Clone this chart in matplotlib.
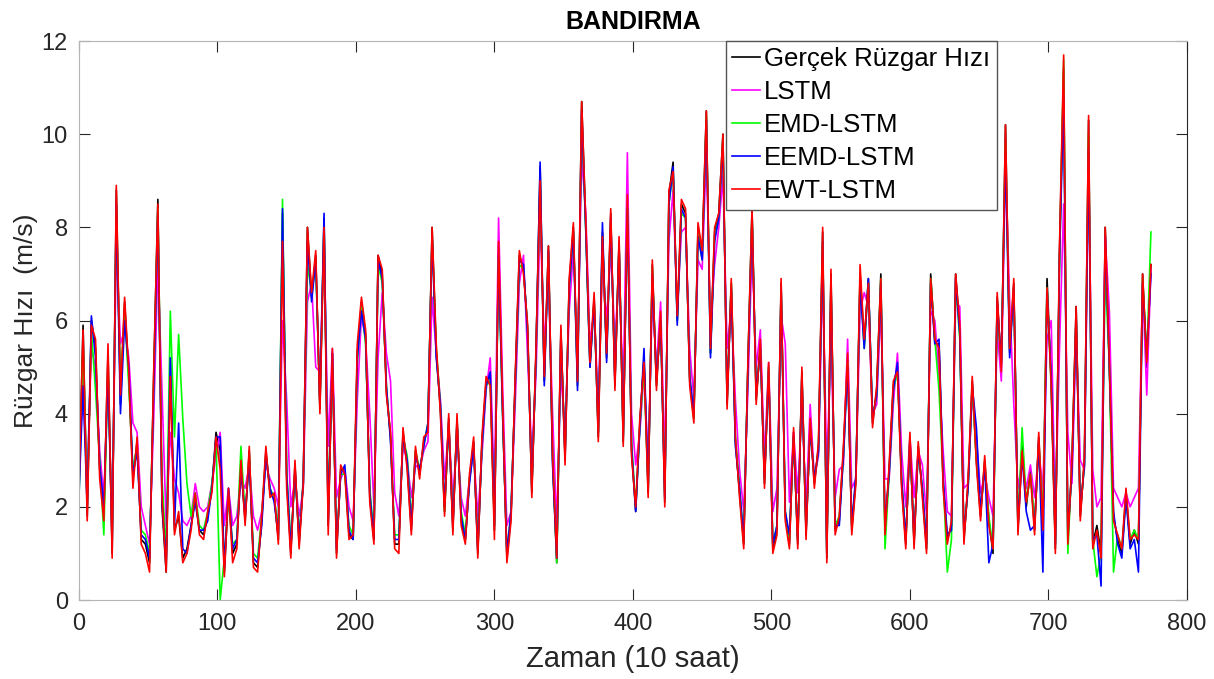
import matplotlib.pyplot as plt
import numpy as np

# du lieu doc tu hinh (moi diem cach nhau 3 don vi thoi gian)
gercek = [2.3, 5.9, 1.8, 6.0, 5.4, 2.8, 1.9, 5.3, 1.0, 8.8,
          4.2, 6.4, 4.8, 2.6, 3.4, 1.3, 1.2, 0.8, 4.8, 8.6,
          2.0, 0.6, 5.1, 1.5, 1.8, 0.9, 1.1, 1.6, 2.2, 1.5,
          1.4, 1.8, 2.4, 3.6, 3.2, 0.6, 2.3, 1.0, 1.2, 2.9,
          1.7, 3.2, 0.8, 0.7, 1.7, 3.2, 2.3, 2.2, 1.3, 8.3,
          2.6, 1.0, 2.9, 1.2, 2.6, 8.0, 6.5, 7.4, 4.1, 8.2,
          1.6, 5.3, 1.0, 2.8, 2.8, 1.4, 1.3, 5.3, 6.4, 5.7,
          2.2, 1.3, 7.4, 7.0, 4.5, 3.5, 1.2, 1.2, 3.6, 2.9,
          1.5, 3.2, 2.7, 3.4, 3.7, 8.0, 5.3, 4.1, 1.9, 3.9,
          1.5, 3.9, 1.7, 1.3, 2.6, 3.4, 1.0, 3.4, 4.7, 4.8,
          1.5, 7.6, 4.0, 0.9, 1.8, 4.7, 7.4, 7.1, 5.8, 2.3,
          5.3, 9.3, 4.7, 7.6, 3.0, 0.8, 5.8, 3.0, 6.8, 8.0,
          4.6, 10.7, 8.0, 5.0, 6.5, 3.5, 7.9, 5.2, 8.3, 4.6,
          7.7, 3.4, 8.6, 3.2, 1.9, 3.8, 5.2, 2.3, 7.2, 4.6,
          6.1, 2.1, 8.7, 9.4, 6.0, 8.5, 8.3, 4.7, 3.9, 8.0,
          7.4, 10.5, 5.3, 7.9, 8.3, 10.0, 4.2, 6.8, 3.4, 2.3,
          1.2, 5.0, 8.4, 4.3, 5.5, 2.5, 5.0, 1.1, 1.5, 6.8,
          1.8, 1.2, 3.6, 1.2, 4.9, 1.4, 3.8, 2.5, 3.3, 7.9,
          0.9, 7.0, 1.5, 1.7, 3.2, 5.2, 1.5, 2.6, 7.0, 5.5,
          6.9, 3.8, 4.5, 7.0, 1.5, 2.8, 4.6, 5.0, 2.5, 1.2,
          3.5, 1.2, 3.3, 2.3, 1.1, 7.0, 5.5, 5.5, 2.5, 1.3,
          1.6, 7.0, 5.8, 1.3, 2.5, 4.7, 3.0, 1.8, 3.0, 1.7,
          1.0, 6.5, 5.0, 10.2, 5.3, 6.8, 1.5, 3.3, 2.0, 2.8,
          1.5, 3.5, 1.6, 6.9, 4.7, 1.1, 7.5, 11.4, 1.3, 2.9,
          6.3, 1.8, 3.0, 10.3, 1.2, 1.6, 1.0, 8.0, 5.0, 1.8,
          1.3, 1.0, 2.3, 1.2, 1.5, 1.2, 7.0, 5.0, 7.2]

lstm = [3.0, 4.5, 2.6, 5.4, 5.0, 3.2, 2.2, 4.8, 1.6, 7.6,
        5.5, 5.8, 5.2, 3.8, 3.6, 2.0, 1.6, 1.2, 3.9, 7.2,
        4.5, 1.6, 3.6, 2.6, 2.3, 1.7, 1.6, 1.8, 2.5, 2.0,
        1.9, 2.0, 2.5, 3.1, 3.6, 1.6, 2.4, 1.6, 1.8, 2.6,
        2.4, 2.9, 1.8, 1.5, 1.9, 2.9, 2.6, 2.4, 2.0, 6.0,
        4.3, 2.0, 2.6, 1.8, 2.4, 6.4, 6.8, 5.0, 4.9, 7.7,
        3.3, 5.4, 2.2, 2.6, 2.8, 2.0, 1.7, 4.3, 6.1, 5.6,
        4.0, 2.0, 5.2, 6.6, 5.3, 4.7, 2.3, 1.8, 3.3, 3.0,
        2.2, 2.9, 2.8, 3.2, 3.4, 6.5, 5.3, 4.3, 2.6, 3.7,
        2.2, 3.5, 2.2, 1.8, 2.6, 3.2, 1.8, 3.1, 4.5, 5.2,
        2.3, 8.2, 4.5, 1.6, 1.9, 4.2, 6.8, 7.4, 5.2, 3.1,
        4.8, 8.2, 5.5, 6.8, 4.0, 1.6, 4.9, 3.6, 6.2, 7.5,
        5.2, 9.5, 8.3, 5.5, 6.2, 4.2, 7.2, 6.0, 7.5, 5.6,
        7.0, 4.5, 9.6, 4.0, 2.9, 3.6, 4.9, 3.0, 6.5, 5.0,
        6.4, 3.0, 7.7, 8.8, 6.2, 7.9, 8.0, 5.4, 4.3, 7.3,
        7.1, 9.6, 5.9, 7.2, 8.0, 9.1, 5.4, 6.3, 4.3, 2.8,
        1.9, 4.5, 7.6, 5.0, 5.8, 3.0, 5.1, 1.9, 2.4, 6.1,
        5.5, 2.1, 3.6, 2.3, 4.2, 2.0, 4.2, 2.6, 3.1, 7.0,
        2.8, 5.6, 2.2, 2.8, 2.9, 5.6, 2.4, 2.6, 6.2, 6.6,
        6.3, 4.0, 4.2, 6.3, 2.6, 2.6, 4.2, 5.3, 3.2, 2.0,
        3.5, 2.2, 3.2, 2.9, 1.8, 6.2, 6.0, 4.8, 3.2, 1.9,
        1.8, 6.4, 6.3, 2.4, 2.5, 4.4, 3.5, 2.3, 2.7, 2.2,
        1.8, 5.8, 4.7, 9.4, 6.4, 4.2, 2.4, 3.0, 2.4, 2.9,
        2.2, 3.2, 2.4, 5.6, 6.0, 1.8, 5.4, 8.5, 3.6, 2.5,
        5.7, 3.0, 2.8, 9.5, 2.8, 2.0, 2.2, 7.8, 6.2, 2.4,
        2.2, 2.0, 2.3, 2.0, 2.2, 2.4, 6.8, 4.4, 7.1]

emd_lstm = [2.1, 5.5, 2.1, 5.8, 4.5, 3.0, 1.4, 5.0, 1.3, 8.4,
            4.6, 6.2, 4.6, 2.8, 3.3, 1.5, 1.4, 1.0, 4.6, 8.4,
            2.6, 1.0, 6.2, 3.5, 5.7, 3.9, 2.5, 1.8, 2.3, 1.6,
            1.5, 1.9, 2.5, 3.4, 0.0, 0.9, 2.2, 1.2, 1.3, 3.3,
            1.8, 3.1, 1.0, 0.9, 1.8, 3.1, 2.4, 2.2, 1.5, 8.6,
            2.8, 1.2, 2.7, 1.4, 2.5, 7.2, 6.6, 7.2, 4.2, 8.1,
            1.9, 5.1, 1.2, 2.7, 2.7, 1.6, 1.4, 5.1, 6.3, 5.5,
            2.4, 1.4, 7.2, 6.8, 4.6, 3.5, 1.4, 1.4, 3.5, 3.1,
            1.7, 3.2, 2.8, 3.3, 3.8, 7.8, 5.4, 4.2, 1.9, 3.8,
            1.7, 3.8, 1.9, 1.4, 2.6, 3.3, 1.2, 3.3, 4.6, 4.7,
            1.6, 7.3, 3.9, 1.0, 1.9, 4.6, 7.2, 7.1, 5.8, 2.4,
            5.2, 9.0, 4.8, 7.4, 3.1, 0.8, 5.6, 3.2, 6.7, 7.9,
            4.7, 10.4, 7.9, 5.1, 6.4, 3.6, 7.8, 5.3, 8.1, 4.8,
            7.6, 3.5, 8.4, 3.4, 2.0, 3.7, 5.0, 2.4, 7.1, 4.7,
            6.0, 2.3, 8.5, 9.2, 6.0, 8.3, 8.2, 4.8, 3.9, 7.9,
            7.3, 10.4, 5.3, 7.8, 8.2, 9.9, 4.3, 6.8, 3.5, 2.4,
            1.3, 5.0, 8.3, 4.4, 5.4, 2.6, 5.0, 1.2, 1.6, 6.7,
            1.9, 1.3, 3.5, 1.3, 4.8, 1.5, 3.7, 2.6, 3.2, 7.7,
            1.0, 6.8, 1.6, 1.8, 3.1, 5.1, 1.6, 2.6, 6.9, 5.4,
            6.8, 3.9, 4.4, 6.9, 1.1, 2.7, 4.5, 4.9, 2.6, 1.3,
            3.4, 1.3, 3.2, 2.4, 1.2, 6.9, 5.6, 4.5, 2.6, 0.6,
            1.3, 6.8, 5.6, 1.4, 2.4, 4.6, 3.0, 1.9, 2.9, 1.8,
            1.1, 6.2, 5.1, 9.8, 5.4, 6.7, 1.6, 3.7, 2.1, 2.7,
            1.6, 3.4, 1.7, 6.7, 4.6, 1.2, 7.2, 11.6, 1.0, 3.0,
            6.1, 1.9, 2.9, 10.0, 1.3, 0.5, 1.0, 7.1, 5.0, 0.6,
            1.4, 1.1, 2.2, 1.3, 1.5, 1.3, 6.9, 5.2, 7.9]

eemd_lstm = [2.2, 4.6, 2.0, 6.1, 5.2, 2.9, 2.0, 4.9, 1.2, 8.5,
             4.0, 6.0, 5.0, 2.7, 3.2, 1.4, 1.3, 0.9, 4.5, 8.3,
             2.1, 0.8, 5.2, 1.6, 3.8, 1.1, 1.0, 1.6, 2.1, 1.5,
             1.5, 1.7, 2.4, 3.5, 3.5, 0.7, 2.4, 1.1, 1.3, 2.8,
             1.8, 3.0, 0.9, 0.8, 1.6, 3.1, 2.4, 2.1, 1.4, 8.4,
             2.7, 1.1, 2.8, 1.3, 2.5, 7.7, 6.4, 7.3, 4.2, 8.3,
             1.7, 5.3, 1.1, 2.7, 2.9, 1.5, 1.3, 5.2, 6.2, 5.6,
             2.3, 1.3, 7.3, 6.9, 4.6, 3.4, 1.3, 1.3, 3.5, 3.0,
             1.6, 3.1, 2.8, 3.3, 3.8, 7.8, 5.2, 4.2, 2.0, 3.8,
             1.6, 3.8, 1.8, 1.3, 2.5, 3.3, 1.1, 3.3, 4.6, 4.9,
             1.6, 7.4, 3.9, 1.0, 1.9, 4.6, 7.3, 7.2, 5.7, 2.4,
             5.2, 9.4, 4.6, 7.5, 2.9, 0.9, 5.7, 3.1, 6.7, 7.9,
             4.5, 10.5, 7.9, 5.0, 6.4, 3.6, 8.1, 5.1, 8.2, 4.7,
             7.6, 3.5, 8.4, 3.3, 1.9, 3.7, 5.4, 2.4, 7.0, 4.7,
             6.0, 2.2, 8.5, 9.3, 5.9, 8.4, 8.2, 4.8, 4.0, 7.8,
             7.3, 10.3, 5.2, 7.7, 8.2, 9.8, 4.3, 6.7, 3.3, 2.4,
             1.3, 4.9, 8.2, 4.4, 5.4, 2.6, 4.9, 1.2, 1.6, 6.7,
             1.9, 1.4, 3.5, 1.3, 4.8, 1.5, 3.7, 2.6, 3.2, 7.7,
             1.0, 6.8, 1.6, 1.6, 3.1, 5.0, 1.6, 2.7, 6.8, 5.4,
             6.9, 3.9, 4.4, 6.8, 1.6, 2.7, 4.5, 5.1, 2.6, 1.3,
             3.4, 1.3, 3.2, 2.4, 1.2, 6.8, 5.5, 5.6, 2.6, 1.4,
             1.5, 6.9, 5.7, 1.4, 2.4, 4.6, 3.7, 1.9, 2.9, 0.8,
             1.2, 6.4, 5.1, 9.6, 5.2, 6.7, 1.6, 3.1, 1.9, 1.5,
             1.6, 3.4, 0.6, 6.6, 4.8, 1.2, 7.3, 10.8, 1.4, 2.8,
             6.1, 1.9, 2.9, 9.7, 1.3, 1.4, 0.3, 7.8, 5.0, 1.9,
             1.2, 0.9, 2.2, 1.1, 1.3, 0.6, 6.8, 5.2, 7.0]

ewt_lstm = [2.4, 5.8, 1.7, 5.9, 5.6, 2.6, 1.7, 5.5, 0.9, 8.9,
            4.4, 6.5, 4.9, 2.4, 3.5, 1.2, 1.0, 0.6, 4.9, 8.5,
            2.2, 0.6, 4.8, 1.4, 1.9, 0.8, 1.0, 1.5, 2.3, 1.4,
            1.3, 1.9, 2.3, 3.5, 2.8, 0.5, 2.4, 0.8, 1.1, 3.0,
            1.6, 3.3, 0.7, 0.6, 1.8, 3.3, 2.2, 2.3, 1.2, 7.7,
            2.4, 0.9, 3.0, 1.1, 2.5, 8.0, 6.6, 7.5, 4.0, 8.0,
            1.4, 5.4, 0.9, 2.9, 2.7, 1.3, 1.4, 5.5, 6.5, 5.8,
            2.1, 1.2, 7.4, 7.1, 4.4, 3.6, 1.1, 1.0, 3.7, 2.8,
            1.4, 3.3, 2.6, 3.5, 3.6, 8.0, 5.5, 4.0, 1.8, 4.0,
            1.4, 4.0, 1.6, 1.2, 2.7, 3.5, 0.9, 3.5, 4.8, 4.6,
            1.3, 7.7, 4.1, 0.8, 1.7, 4.8, 7.5, 7.0, 5.9, 2.2,
            5.4, 9.0, 4.8, 7.6, 3.1, 0.9, 5.9, 2.9, 6.9, 8.1,
            4.7, 10.7, 8.1, 5.1, 6.6, 3.4, 7.8, 5.3, 8.4, 4.5,
            7.8, 3.3, 8.7, 3.1, 2.0, 3.9, 5.1, 2.2, 7.3, 4.5,
            6.2, 2.0, 8.8, 9.2, 6.1, 8.6, 8.4, 4.6, 3.8, 8.1,
            7.5, 10.5, 5.4, 8.0, 8.3, 10.0, 4.1, 6.9, 3.5, 2.2,
            1.1, 5.1, 8.4, 4.2, 5.6, 2.4, 5.1, 1.0, 1.4, 6.9,
            1.7, 1.1, 3.7, 1.1, 5.0, 1.3, 3.9, 2.4, 3.4, 8.0,
            0.8, 7.1, 1.4, 1.8, 3.3, 5.3, 1.4, 2.5, 7.2, 5.6,
            6.8, 3.7, 4.6, 6.9, 1.4, 2.9, 4.7, 4.9, 2.4, 1.1,
            3.6, 1.1, 3.4, 2.2, 1.0, 6.9, 5.6, 5.4, 2.4, 1.2,
            1.7, 7.0, 5.9, 1.2, 2.6, 4.8, 2.9, 1.7, 3.1, 1.6,
            1.1, 6.6, 4.9, 10.2, 5.4, 6.9, 1.4, 3.2, 2.1, 2.7,
            1.4, 3.6, 1.5, 6.7, 4.6, 1.0, 7.6, 11.7, 1.2, 3.0,
            6.3, 1.7, 3.1, 10.4, 1.1, 1.5, 0.9, 8.0, 5.1, 1.7,
            1.4, 1.1, 2.4, 1.3, 1.4, 1.3, 7.0, 5.1, 7.2]

zaman = np.arange(len(gercek)) * 3

seriler = [(gercek, 'Gerçek Rüzgar Hızı', 'k'),
           (lstm, 'LSTM', '#ff00ff'),
           (emd_lstm, 'EMD-LSTM', '#00ff00'),
           (eemd_lstm, 'EEMD-LSTM', '#0000ff'),
           (ewt_lstm, 'EWT-LSTM', '#ff0000')]

plt.rcParams['font.family'] = ['Liberation Sans', 'DejaVu Sans']
hep = '#262626'

fig = plt.figure(figsize=(12.14, 6.79), dpi=100)
ax = fig.add_axes([0.065, 0.1163, 0.9127, 0.8233])

for y, ad, renk in seriler:
    n = min(len(y), len(zaman))
    ax.plot(zaman[:n], y[:n], color=renk, lw=1.2, label=ad)

ax.set_xlim(0, 800)
ax.set_ylim(0, 12)
ax.set_xticks(np.arange(0, 801, 100))
ax.set_yticks(np.arange(0, 13, 2))
ax.tick_params(direction='in', length=8, width=0.8, colors=hep,
               top=True, right=True)
ax.tick_params(axis='y', labelsize=17, pad=8)
ax.tick_params(axis='x', labelsize=17, pad=9)

for k in ['left', 'top', 'bottom']:
    ax.spines[k].set_color('#b4b4b4')
ax.spines['right'].set_color(hep)

ax.set_title('BANDIRMA', fontsize=18, fontweight='bold', pad=9)
ax.set_xlabel('Zaman (10 saat)', fontsize=21, color=hep)
ax.xaxis.set_label_coords(0.5, -0.08)
ax.set_ylabel('Rüzgar Hızı  (m/s)', fontsize=19, color=hep)
ax.yaxis.set_label_coords(-0.037, 0.5)

leg = ax.legend(loc='upper right', bbox_to_anchor=(0.8285, 1.0),
                borderaxespad=0, fontsize=18.5, handlelength=1.1,
                handletextpad=0.15, labelspacing=0.35, borderpad=0.25,
                fancybox=False, framealpha=1)
leg.get_frame().set_edgecolor('#555555')
leg.get_frame().set_linewidth(1.0)

fig.savefig('out.png', dpi=100)
